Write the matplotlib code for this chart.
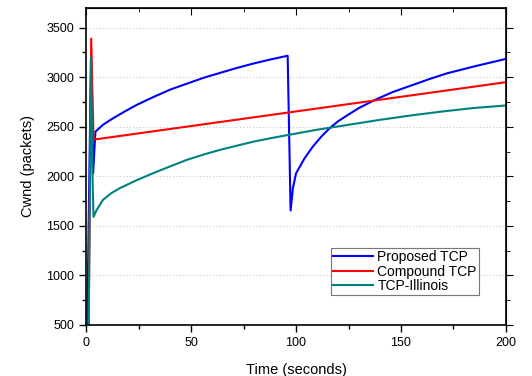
import numpy as np
import matplotlib.pyplot as plt
from matplotlib.ticker import MultipleLocator

plt.rcParams["font.family"] = ["Liberation Sans", "DejaVu Sans"]

# Proposed TCP (blue)
prop_t = [0.5, 2.3, 3.3, 4.4, 8, 12, 18, 24, 32, 40, 48, 56, 64, 72, 80, 88, 96,
          97.4, 98.5, 100, 104, 108, 112, 116, 120, 124, 130, 138, 146, 156, 164, 172, 186, 200]
prop_w = [500, 3200, 2030, 2450, 2520, 2575, 2650, 2720, 2800, 2875, 2935, 2995, 3045, 3095, 3140, 3180, 3217,
          1655, 1880, 2030, 2180, 2300, 2400, 2485, 2555, 2610, 2690, 2775, 2850, 2925, 2985, 3040, 3115, 3185]

# Compound TCP (red)
comp_t = [0.5, 1.2, 2.4, 3.5, 200]
comp_w = [500, 500, 3390, 2370, 2950]

# TCP-Illinois (teal)
ill_t = [0.5, 1.2, 2.3, 3.0, 3.5, 5, 8, 12, 16, 24, 32, 40, 48, 56, 64, 72, 80, 88, 97,
         110, 125, 140, 155, 170, 185, 200]
ill_w = [500, 500, 3200, 2000, 1590, 1660, 1762, 1830, 1880, 1960, 2032, 2100, 2166, 2220, 2268, 2310, 2351, 2385, 2420,
         2470, 2520, 2570, 2615, 2655, 2690, 2715]

fig = plt.figure(figsize=(5.32, 3.76), dpi=100)
ax = fig.add_axes([0.162, 0.136, 0.789, 0.843])

ax.plot(prop_t, prop_w, color="#0000ff", lw=1.5, label="Proposed TCP")
ax.plot(comp_t, comp_w, color="#ff0000", lw=1.5, label="Compound TCP")
ax.plot(ill_t, ill_w, color="#008080", lw=1.5, label="TCP-Illinois")

ax.set_xlim(0, 200)
ax.set_ylim(500, 3700)
ax.xaxis.set_major_locator(MultipleLocator(50))
ax.xaxis.set_minor_locator(MultipleLocator(25))
ax.yaxis.set_major_locator(MultipleLocator(500))
ax.yaxis.set_minor_locator(MultipleLocator(250))
ax.grid(axis="y", which="major", color="#c8c8c8", ls=(0, (1, 2)), lw=0.8)
ax.tick_params(which="major", direction="out", length=5, width=1, labelsize=9)
ax.tick_params(which="minor", direction="out", length=3, width=1)
for s in ax.spines.values():
    s.set_linewidth(1.2)

top = ax.secondary_xaxis("top")
top.xaxis.set_major_locator(MultipleLocator(50))
top.xaxis.set_minor_locator(MultipleLocator(25))
top.tick_params(which="major", direction="in", length=5, labeltop=False)
top.tick_params(which="minor", direction="in", length=3)
right = ax.secondary_yaxis("right")
right.yaxis.set_major_locator(MultipleLocator(500))
right.yaxis.set_minor_locator(MultipleLocator(250))
right.tick_params(which="major", direction="out", length=5, labelright=False)
right.tick_params(which="minor", direction="out", length=3)

ax.set_xlabel("Time (seconds)", fontsize=10.5, labelpad=10)
ax.set_ylabel("Cwnd (packets)", fontsize=10.5, labelpad=8)

leg = ax.legend(loc="upper left", bbox_to_anchor=(0.583, 0.243), fontsize=10,
                frameon=True, fancybox=False, edgecolor="#555555", handlelength=2.9,
                borderpad=0.15, labelspacing=0.05, handletextpad=0.3, borderaxespad=0)
leg.get_frame().set_linewidth(0.8)

fig.savefig("out.png", dpi=100)
